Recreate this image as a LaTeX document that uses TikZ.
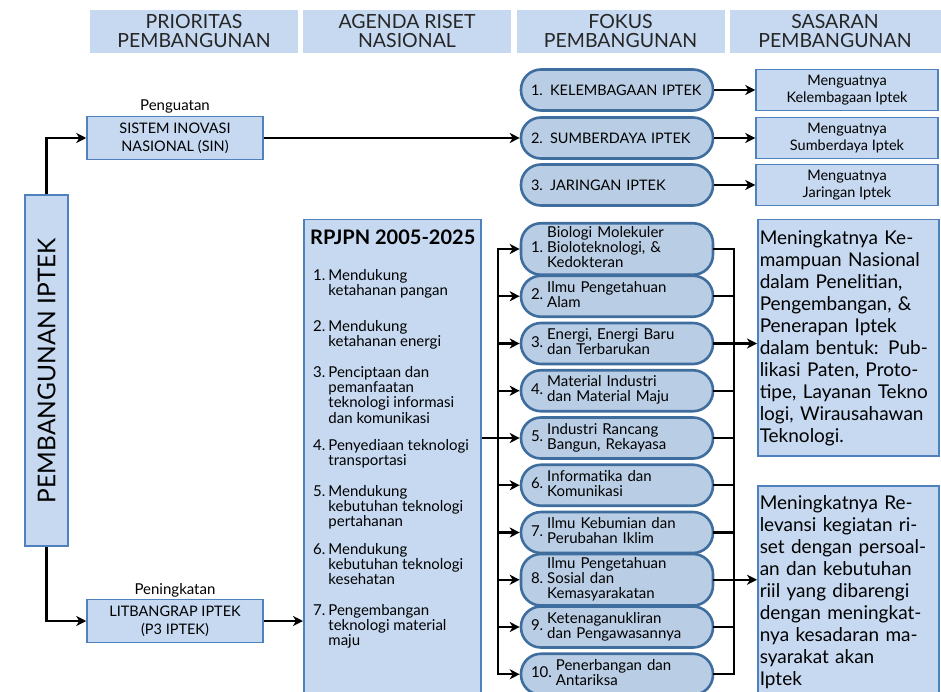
\documentclass[tikz,border=0pt]{standalone}
\usepackage{fontspec}
\setmainfont{Lato}
\usetikzlibrary{calc,positioning,arrows.meta}
\definecolor{lb}{HTML}{C6D9F1}
\definecolor{mb}{HTML}{B9CDE5}
\definecolor{bd}{HTML}{4F81BD}
\definecolor{db}{HTML}{3F6E9E}
\newcommand{\fitem}[2]{\begin{tabular}{@{}l@{\hspace{4pt}}l@{}}#1&\begin{tabular}{@{}l@{}}#2\end{tabular}\end{tabular}}
\newcommand{\ritem}[2]{#1\hspace{3pt}\begin{tabular}[t]{@{}l@{}}#2\end{tabular}}
\begin{document}
\begin{tikzpicture}[x=1pt,y=-1pt,
hd/.style={fill=lb,minimum width=208,minimum height=43,align=center,inner sep=0,text=black!85,font=\fontsize{19.5}{19}\selectfont},
bx/.style={fill=lb,draw=bd,line width=1.5pt},
lb/.style={bx,minimum width=176,minimum height=43,align=center,font=\fontsize{14.5}{18}\selectfont},
sb/.style={bx,minimum width=182,minimum height=41,align=center,inner sep=0,font=\fontsize{14.5}{17}\selectfont},
kb/.style={bx,anchor=north west,minimum width=181,text width=177,inner xsep=2,inner ysep=2,align=left,font=\fontsize{19}{22}\selectfont},
fk/.style={fill=mb,draw=db,line width=2.6pt,rounded corners=20pt,minimum width=192,minimum height=41,inner xsep=10,text width=172,align=left,font=\fontsize{15}{13}\selectfont},
li/.style={anchor=base west,inner sep=0,font=\fontsize{15}{14.7}\selectfont},
ar/.style={line width=2.2pt,-{Stealth[length=10pt,width=10pt,inset=3pt]}},
ln/.style={line width=2.2pt,line cap=rect}]
\useasboundingbox (0,0) rectangle (941,692);
\clip (0,0) rectangle (941,692);
\node[hd] (h1) at (194,31.5) {PRIORITAS\\PEMBANGUNAN};
\node[hd] (h2) at (407,31.5) {AGENDA RISET\\NASIONAL};
\node[hd] (h3) at (620.5,31.5) {FOKUS\\PEMBANGUNAN};
\node[hd,minimum width=211] (h4) at (835,31.5) {SASARAN\\PEMBANGUNAN};
\node[bx,minimum width=43,minimum height=351] (pem) at (46.5,370.5) {};
\node[rotate=90,font=\fontsize{24.5}{24}\selectfont] (pemt) at (pem) {PEMBANGUNAN IPTEK};
\node[font=\fontsize{15}{18}\selectfont] (pg) at (175,106) {Penguatan};
\node[lb] (sin) at (175,138) {SISTEM INOVASI\\NASIONAL (SIN)};
\node[font=\fontsize{15}{18}\selectfont] (pk) at (175,590) {Peningkatan};
\node[lb] (lit) at (175,621) {LITBANGRAP IPTEK\\(P3 IPTEK)};
\node[fk,font=\fontsize{14.5}{16}\selectfont] (t1) at (617,90) {1. KELEMBAGAAN IPTEK};
\node[fk,font=\fontsize{14.5}{16}\selectfont] (t2) at (617,138) {2. SUMBERDAYA IPTEK};
\node[fk,font=\fontsize{14.5}{16}\selectfont] (t3) at (617,185) {3. JARINGAN IPTEK};
\node[sb] (m1) at (847,90) {Menguatnya\\Kelembagaan Iptek};
\node[sb] (m2) at (847,138) {Menguatnya\\Sumberdaya Iptek};
\node[sb] (m3) at (847,185) {Menguatnya\\Jaringan Iptek};
\node[bx,minimum width=177,minimum height=480,anchor=north west,inner sep=0] (rp) at (303,219) {};
\node[li,font=\bfseries\fontsize{20}{20}\selectfont] (rpt) at (310,245) {RPJPN 2005-2025};
\node[li] (r1) at (313,280) {\ritem{1.}{Mendukung\\ketahanan pangan}};
\node[li] (r2) at (313,331) {\ritem{2.}{Mendukung\\ketahanan energi}};
\node[li] (r3) at (313,377) {\ritem{3.}{Penciptaan dan\\pemanfaatan\\teknologi informasi\\dan komunikasi}};
\node[li] (r4) at (313,450) {\ritem{4.}{Penyediaan teknologi\\transportasi}};
\node[li] (r5) at (313,496) {\ritem{5.}{Mendukung\\kebutuhan teknologi\\pertahanan}};
\node[li] (r6) at (313,554) {\ritem{6.}{Mendukung\\kebutuhan teknologi\\kesehatan}};
\node[li] (r7) at (313,615) {\ritem{7.}{Pengembangan\\teknologi material\\maju}};
\node[fk] (f1) at (617,249) {\fitem{1.}{Biologi Molekuler\\Bioloteknologi, \&\\Kedokteran}};
\node[fk] (f2) at (617,296.25) {\fitem{2.}{Ilmu Pengetahuan\\Alam}};
\node[fk] (f3) at (617,343.5) {\fitem{3.}{Energi, Energi Baru\\dan Terbarukan}};
\node[fk] (f4) at (617,390.75) {\fitem{4.}{Material Industri\\dan Material Maju}};
\node[fk] (f5) at (617,438) {\fitem{5.}{Industri Rancang\\Bangun, Rekayasa}};
\node[fk] (f6) at (617,485.25) {\fitem{6.}{Informatika dan\\Komunikasi}};
\node[fk] (f7) at (617,532.5) {\fitem{7.}{Ilmu Kebumian dan\\Perubahan Iklim}};
\node[fk] (f8) at (617,579.75) {\fitem{8.}{Ilmu Pengetahuan\\Sosial dan\\Kemasyarakatan}};
\node[fk] (f9) at (617,627) {\fitem{9.}{Ketenaganukliran\\dan Pengawasannya}};
\node[fk] (f10) at (617,674.25) {\fitem{10.}{Penerbangan dan\\Antariksa}};
\node[kb,minimum height=236] (k1) at (757,219) {Meningkatnya Ke-\\mampuan Nasional\\dalam Penelitian,\\Pengembangan, \&\\Penerapan Iptek\\dalam bentuk: Pub-\\likasi Paten, Proto-\\tipe, Layanan Tekno\\logi, Wirausahawan\\Teknologi.};
\node[kb,minimum height=212] (k2) at (757,485) {Meningkatnya Re-\\levansi kegiatan ri-\\set dengan persoal-\\an dan kebutuhan\\riil yang dibarengi\\dengan meningkat-\\nya kesadaran ma-\\syarakat akan\\Iptek};
\coordinate (bl) at (498,0);
\coordinate (br) at (734,0);
\draw[ar] (pem.north) |- (sin.west);
\draw[ar] (pem.south) |- (lit.west);
\draw[ar] (lit.east) -- (rp.west|-lit.east);
\draw[ar] (sin) -- (t2);
\draw[ar] (t1) -- (m1);
\draw[ar] (t2) -- (m2);
\draw[ar] (t3) -- (m3);
\draw[ln] (bl|-f1) -- (bl|-f10);
\draw[ar] (bl|-f1) -- (f1);
\draw[ar] (bl|-f2) -- (f2);
\draw[ar] (bl|-f3) -- (f3);
\draw[ar] (bl|-f4) -- (f4);
\draw[ar] (rp.east|-f5) -- (f5);
\draw[ar] (bl|-f6) -- (f6);
\draw[ar] (bl|-f7) -- (f7);
\draw[ar] (bl|-f8) -- (f8);
\draw[ar] (bl|-f9) -- (f9);
\draw[ar] (bl|-f10) -- (f10);
\draw[ln] (f1) -- (br|-f1) (f2) -- (br|-f2) (f3) -- (br|-f3) (f4) -- (br|-f4) (f5) -- (br|-f5)
 (f6) -- (br|-f6) (f7) -- (br|-f7) (f8) -- (br|-f8) (f9) -- (br|-f9) (f10) -- (br|-f10);
\draw[ln] (br|-f1) -- (br|-f10);
\draw[ar] (br|-f3) -- (k1.west|-f3);
\draw[ar] (br|-f8) -- (k2.west|-f8);
\end{tikzpicture}
\end{document}
